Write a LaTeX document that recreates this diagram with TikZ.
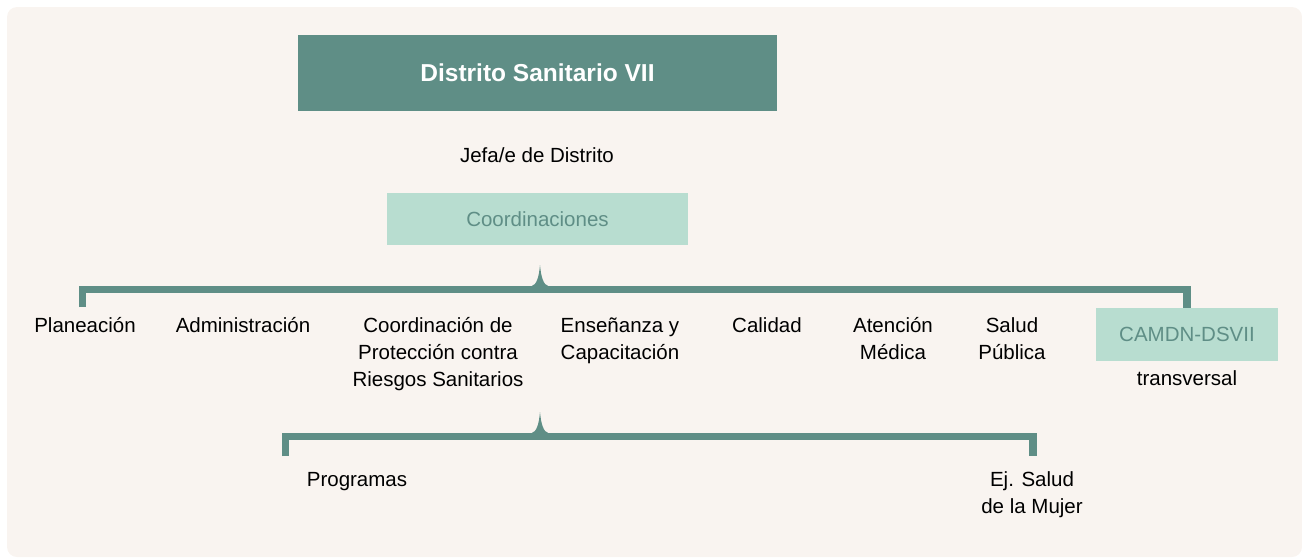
\documentclass[tikz,border=0pt]{standalone}
\usepackage{fontspec}
\usepackage{tikz}
\usepackage{xcolor}
\setmainfont{Liberation Sans}

\definecolor{teal}{HTML}{5F8E86}
\definecolor{mint}{HTML}{B8DDD0}
\definecolor{paper}{HTML}{F9F4F0}

\tikzset{
  lbl/.style={font=\fontsize{20.5}{27}\selectfont, align=center, inner sep=0pt, anchor=north},
  mintbox/.style={fill=mint, text=teal, font=\fontsize{20.5}{27}\selectfont, inner sep=0pt},
  bar/.style={draw=teal, line width=7.5pt},
}

\begin{document}
\begin{tikzpicture}[x=1pt,y=-1pt]
    \useasboundingbox (0,0) rectangle (1302,558);
    \fill[paper, rounded corners=10pt] (7,7) rectangle (1302,557);

    \node[fill=teal, text=white, font=\fontsize{24.5}{28}\selectfont\bfseries, minimum width=479pt, minimum height=76pt, inner sep=0pt] (head) at (537.5,73) {Distrito Sanitario VII};
    \node[lbl] (jefe) at (537,143) {\strut Jefa/e de Distrito};
    \node[mintbox, minimum width=301pt, minimum height=52pt] (coord) at (537.5,219) {Coordinaciones};

    \node[lbl] (plan) at (85,313) {\strut Planeación};
    \node[lbl] (admin) at (243,313) {\strut Administración};
    \node[lbl] (riesgos) at (438,313) {\strut Coordinación de\\Protección contra\\Riesgos Sanitarios};
    \node[lbl] (ense) at (620,313) {\strut Enseñanza y\\Capacitación};
    \node[lbl] (cal) at (767,313) {\strut Calidad};
    \node[lbl] (aten) at (893,313) {\strut Atención\\Médica};
    \node[lbl] (salud) at (1012,313) {\strut Salud\\Pública};
    \node[mintbox, minimum width=182pt, minimum height=53pt] (camdn) at (1187,334.5) {CAMDN-DSVII};
    \node[lbl] (trans) at (1187,366) {\strut transversal};

    \node[lbl] (prog) at (357,467) {\strut Programas};
    \node[lbl] (mujer) at (1032,467) {\strut Ej. Salud\\de la Mujer};

    % first brace
    \coordinate (leg1) at (82.5,307);
    \coordinate (tip1) at (540,289.5);
    \draw[bar] (leg1) |- (tip1) -| (camdn.north);
    \fill[teal] (531,286.5) .. controls (537,285) and (539,276) .. (540,265)
        .. controls (541,276) and (543,285) .. (549,286.5) -- cycle;

    % second brace
    \coordinate (leg2) at (285.5,456);
    \coordinate (tip2) at (540,436.5);
    \draw[bar] (leg2) |- (tip2) -| ([xshift=1pt,yshift=11pt]mujer.north);
    \fill[teal] (531,433.5) .. controls (537,432) and (539,423) .. (540,412)
        .. controls (541,423) and (543,432) .. (549,433.5) -- cycle;
\end{tikzpicture}
\end{document}
